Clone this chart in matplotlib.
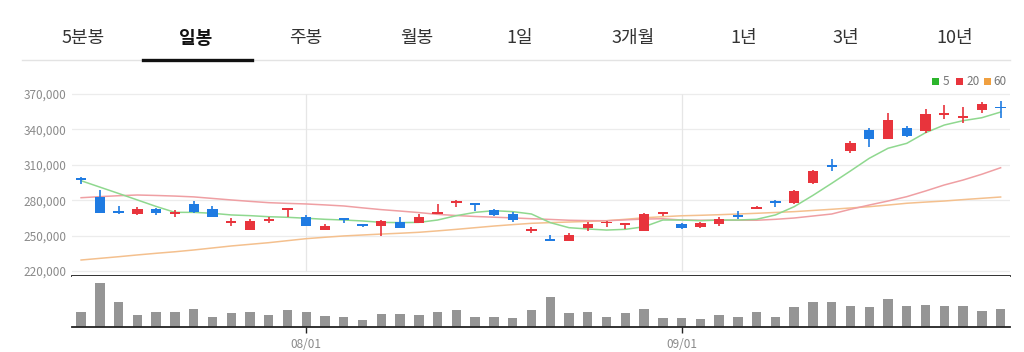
import numpy as np
import matplotlib
matplotlib.use('Agg')
import matplotlib.pyplot as plt
from matplotlib.patches import Rectangle
from matplotlib.lines import Line2D

plt.rcParams['font.family'] = ['Noto Sans CJK KR', 'DejaVu Sans']

# daily candles (50 trading days)
opens = [298500, 283000, 270000, 268300, 272500, 268600, 276800, 272300, 261300, 254700,
         263200, 272300, 265500, 254800, 264300, 259800, 257900, 261500, 261000, 268500,
         278200, 277300, 271700, 268300, 254600, 246600, 245700, 256400, 260800, 259300,
         254200, 269000, 259600, 257000, 259800, 267200, 272800, 278700, 277900, 294300,
         309900, 322000, 339500, 331900, 341400, 338900, 352700, 349800, 356400, 359000]
highs = [299500, 289000, 275000, 274200, 273200, 271700, 279300, 275000, 264600, 264300,
         266000, 273500, 267500, 259800, 264500, 260000, 263200, 265500, 268000, 276500,
         280200, 277500, 272300, 270200, 257000, 250500, 252200, 261200, 262600, 261000,
         268800, 269700, 260500, 261800, 265500, 270800, 275000, 280200, 289000, 305500,
         314700, 330200, 341400, 354200, 343000, 357000, 360700, 359200, 363000, 364300]
lows = [293500, 269000, 268500, 267500, 267500, 265500, 269500, 265500, 258400, 254700,
        260400, 265500, 258000, 254600, 260400, 257500, 249700, 256200, 260500, 268300,
        274500, 270800, 266800, 261200, 252000, 245800, 245500, 253900, 257000, 255900,
        253800, 266600, 255600, 256500, 258100, 264300, 272300, 274500, 277000, 293400,
        305000, 319700, 324800, 331500, 333400, 336700, 348600, 345700, 353600, 349400]
closes = [297000, 269500, 269600, 272900, 268900, 269300, 269700, 266000, 262000, 262400,
          263800, 273400, 258400, 257900, 263600, 258800, 262400, 256700, 266000, 269200,
          278800, 276700, 267500, 263000, 255300, 245900, 250800, 259800, 261500, 259900,
          268300, 269600, 256700, 261000, 263800, 266500, 273500, 277600, 288000, 304700,
          308300, 328200, 331600, 348000, 334400, 353000, 353400, 350600, 361300, 358300]

# moving averages as drawn on the chart
ma5 = [296500, 291100, 285700, 280200, 274700, 269700, 269700, 268900, 267500, 266900,
       266000, 265500, 264700, 263800, 263200, 262400, 261200, 261000, 261200, 263200,
       266900, 269700, 271100, 270300, 268300, 261000, 256700, 255600, 254700, 255300,
       257500, 263200, 263200, 262600, 263200, 263200, 263800, 267500, 274500, 284100,
       294300, 304800, 315500, 324000, 328200, 337200, 343700, 347400, 349900, 354700]
ma20 = [282100, 283000, 283800, 284400, 284000, 283500, 282800, 281500, 280200, 279000,
        277900, 277300, 276800, 276000, 275100, 273500, 272000, 270800, 269500, 268000,
        267000, 266200, 265600, 265000, 264300, 263700, 263000, 262700, 262600, 263300,
        264000, 264300, 263200, 263000, 263000, 263000, 263000, 263800, 264900, 266600,
        268300, 272300, 275900, 279300, 283000, 287800, 292900, 297100, 302000, 307500]
ma60 = [229300, 230700, 232100, 233600, 235000, 236300, 237800, 239500, 241200, 242600,
        244000, 245700, 247400, 248600, 249700, 250500, 251300, 252000, 252800, 254000,
        255300, 256700, 258100, 259300, 260400, 261000, 261500, 262000, 262600, 263800,
        265100, 266000, 266800, 267200, 267700, 268300, 268900, 269600, 270300, 271300,
        272300, 273400, 274500, 275900, 277400, 278400, 279300, 280500, 281600, 282700]

volumes = [156, 446, 256, 123, 156, 156, 183, 106, 143, 150,
           123, 170, 156, 116, 106, 73, 136, 136, 123, 150,
           170, 106, 100, 90, 173, 306, 146, 153, 100, 140,
           186, 93, 93, 80, 120, 106, 153, 100, 200, 256,
           250, 210, 200, 280, 216, 223, 216, 216, 163, 186]

tab_labels = ['5분봉', '일봉', '주봉', '월봉', '1일', '3개월', '1년', '3년', '10년']
tab_x = [83, 196, 306, 417, 520, 633, 744, 846, 955]
price_ticks = [220000, 250000, 280000, 310000, 340000, 370000]
date_ticks = [12, 32]
date_labels = ['08/01', '09/01']

RED = '#e8343c'
BLUE = '#1f7be2'
W, H = 1024, 352

fig = plt.figure(figsize=(W / 100, H / 100), dpi=100)
fig.patch.set_facecolor('white')

def fx(px):
    return px / W

def fy(py):
    return 1 - py / H

# tab bar
for lab, x in zip(tab_labels, tab_x):
    sel = (lab == '일봉')
    fig.text(fx(x), fy(38), lab, ha='center', va='center', fontsize=13,
             fontweight='bold' if sel else 'normal', color='#111111' if sel else '#333333')
fig.add_artist(Line2D([fx(22), fx(1010)], [fy(60), fy(60)], color='#e3e3e3', lw=1))
fig.add_artist(Line2D([fx(143), fx(252)], [fy(59.5), fy(59.5)], color='#111111', lw=2.4))

# legend
leg = [('5', '#2cb52c', 932, 943), ('20', RED, 956, 966), ('60', '#f0a040', 984, 993)]
for lab, col, sx, tx in leg:
    fig.add_artist(Rectangle((fx(sx), fy(85)), fx(7), 7 / H, color=col, lw=0))
    fig.text(fx(tx), fy(81.5), lab, ha='left', va='center', fontsize=8.5, color='#777777')

# price panel
top_px, bot_px = 90, 276
ppx = 847.5
ax = fig.add_axes([fx(71.7), fy(bot_px), fx(1010 - 71.7), (bot_px - top_px) / H])
ax.set_xlim(-0.5, 49.5)
ax.set_ylim(370000 - (bot_px - 94) * ppx, 370000 + (94 - top_px) * ppx)
for s in ['top', 'left', 'right']:
    ax.spines[s].set_visible(False)
ax.spines['bottom'].set_color('#222222')
ax.spines['bottom'].set_linewidth(1.3)
ax.set_xticks([])
ax.set_yticks(price_ticks)
ax.set_yticklabels(['{:,}'.format(v) for v in price_ticks])
ax.tick_params(axis='y', length=0, pad=3.5, labelsize=8.5, labelcolor='#8a8a8a')
for v in price_ticks:
    ax.axhline(v, color='#ececec', lw=0.9, zorder=0)
ax.vlines(date_ticks, price_ticks[0], price_ticks[-1], color='#e6e6e6', lw=0.9, zorder=0)

x = np.arange(len(opens))
ax.plot(x, ma60, color='#f4c08e', lw=1.1, zorder=1)
ax.plot(x, ma20, color='#ef9fa3', lw=1.1, zorder=1)
ax.plot(x, ma5, color='#8fd88f', lw=1.1, zorder=1)

for i in range(len(opens)):
    o, h, l, c = opens[i], highs[i], lows[i], closes[i]
    col = RED if c >= o else BLUE
    ax.vlines(i, l, h, color=col, lw=1.2, zorder=2)
    body = max(abs(c - o), 1500)
    bottom = min(o, c) if abs(c - o) >= 1500 else (o + c) / 2 - 750
    ax.bar(i, body, bottom=bottom, width=0.55, color=col, lw=0, zorder=3)

# volume panel
vax = fig.add_axes([fx(71.7), fy(327.3), fx(1010 - 71.7), (327.3 - bot_px) / H])
vax.set_xlim(-0.5, 49.5)
vax.set_ylim(0, max(volumes) * 51.3 / 44.6)
vax.bar(x, volumes, width=0.5, color='#959595', lw=0)
for s in ['top', 'left', 'right']:
    vax.spines[s].set_visible(False)
vax.spines['bottom'].set_color('#222222')
vax.spines['bottom'].set_linewidth(1.3)
vax.set_yticks([])
vax.set_xticks(date_ticks)
vax.set_xticklabels(date_labels)
vax.tick_params(axis='x', length=4, width=1, color='#222222', pad=4,
                labelsize=8.5, labelcolor='#8a8a8a')

fig.savefig('out.png', dpi=100, facecolor='white')
